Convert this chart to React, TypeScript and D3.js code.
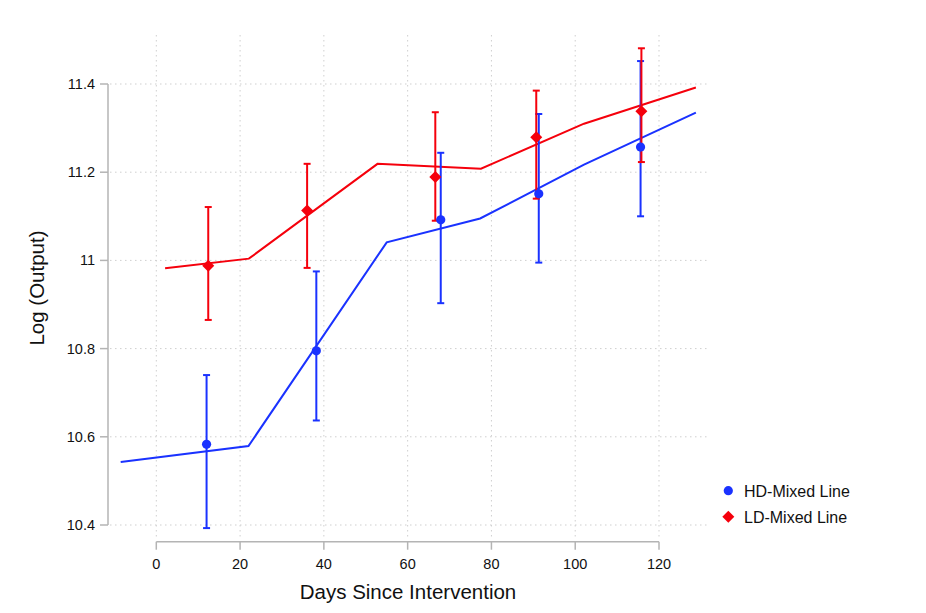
import React from "react";
import * as d3 from "d3";

const xTicks = [0, 20, 40, 60, 80, 100, 120];
const yTicks = [10.4, 10.6, 10.8, 11.0, 11.2, 11.4];
const yTickLabels = ["10.4", "10.6", "10.8", "11", "11.2", "11.4"];

const hdDays = [12.0, 38.2, 67.9, 91.3, 115.6];
const hdMean = [10.583, 10.795, 11.092, 11.151, 11.257];
const hdLow = [10.393, 10.637, 10.903, 10.995, 11.1];
const hdHigh = [10.74, 10.975, 11.244, 11.332, 11.452];

const ldDays = [12.4, 36.0, 66.6, 90.7, 115.8];
const ldMean = [10.988, 11.113, 11.189, 11.279, 11.338];
const ldLow = [10.865, 10.983, 11.09, 11.14, 11.223];
const ldHigh = [11.121, 11.219, 11.336, 11.385, 11.481];

const hdFitDays = [-8.5, 22.0, 55.0, 77.3, 102.1, 128.8];
const hdFitVals = [10.543, 10.579, 11.041, 11.095, 11.217, 11.335];
const ldFitDays = [2.1, 22.1, 52.8, 77.5, 102.1, 128.8];
const ldFitVals = [10.982, 11.004, 11.219, 11.208, 11.31, 11.392];

const seriesNames = ["HD-Mixed Line", "LD-Mixed Line"];
const BLUE = "#1a32ff";
const RED = "#f5000c";

export default function App() {
  const W = 926;
  const H = 613;
  const x = d3.scaleLinear().domain([0, 120]).range([156.3, 659]);
  const y = d3.scaleLinear().domain([10.4, 11.4]).range([525, 84]);
  const font = "'Liberation Sans', Arial, Helvetica, sans-serif";
  const gridLeft = 110;
  const gridRight = 707;
  const gridTop = 35;
  const gridBottom = 537;
  const axisY = 541.7;
  const axisX = 108;

  const line = d3
    .line<[number, number]>()
    .x((d) => x(d[0]))
    .y((d) => y(d[1]));

  const hdFit = hdFitDays.map((d, i) => [d, hdFitVals[i]] as [number, number]);
  const ldFit = ldFitDays.map((d, i) => [d, ldFitVals[i]] as [number, number]);

  const errBars = (days: number[], lo: number[], hi: number[], color: string) =>
    days.map((d, i) => (
      <g key={i} stroke={color} strokeWidth={2}>
        <line x1={x(d)} x2={x(d)} y1={y(lo[i])} y2={y(hi[i])} />
        <line x1={x(d) - 3.5} x2={x(d) + 3.5} y1={y(lo[i])} y2={y(lo[i])} />
        <line x1={x(d) - 3.5} x2={x(d) + 3.5} y1={y(hi[i])} y2={y(hi[i])} />
      </g>
    ));

  const diamond = (cx: number, cy: number, r: number) =>
    `M${cx},${cy - r}L${cx + r},${cy}L${cx},${cy + r}L${cx - r},${cy}Z`;

  return (
    <svg width={W} height={H} style={{ position: "absolute", left: 0, top: 0, background: "#fff" }}>
      <rect width={W} height={H} fill="#fff" />
      {/* grid */}
      <g stroke="#cfcfcf" strokeWidth={1} strokeDasharray="1.5,3.5">
        {xTicks.map((t) => (
          <line key={"gx" + t} x1={x(t)} x2={x(t)} y1={gridTop} y2={gridBottom} />
        ))}
        {yTicks.map((t) => (
          <line key={"gy" + t} x1={gridLeft} x2={gridRight} y1={y(t)} y2={y(t)} />
        ))}
      </g>
      {/* axes */}
      <g stroke="#b4b4b4" strokeWidth={1.5}>
        <line x1={axisX} x2={axisX} y1={y(11.4)} y2={y(10.4)} />
        {yTicks.map((t) => (
          <line key={"yt" + t} x1={axisX - 8} x2={axisX} y1={y(t)} y2={y(t)} />
        ))}
        <line x1={x(0)} x2={x(120)} y1={axisY} y2={axisY} />
        {xTicks.map((t) => (
          <line key={"xt" + t} x1={x(t)} x2={x(t)} y1={axisY} y2={axisY + 8} />
        ))}
      </g>
      <g fontFamily={font} fontSize={14.5} fill="#111">
        {yTicks.map((t, i) => (
          <text key={"yl" + t} x={95} y={y(t)} textAnchor="end" dominantBaseline="central">
            {yTickLabels[i]}
          </text>
        ))}
        {xTicks.map((t) => (
          <text key={"xl" + t} x={x(t)} y={563.5} textAnchor="middle" dominantBaseline="central">
            {t}
          </text>
        ))}
      </g>
      <text x={408} y={599} textAnchor="middle" fontFamily={font} fontSize={20.5} fill="#111">
        Days Since Intervention
      </text>
      <text
        transform={`translate(43.5,288) rotate(-90)`}
        textAnchor="middle"
        fontFamily={font}
        fontSize={20.5}
        fill="#111"
      >
        Log (Output)
      </text>
      {/* fitted lines */}
      <path d={line(hdFit) || ""} fill="none" stroke={BLUE} strokeWidth={2} />
      <path d={line(ldFit) || ""} fill="none" stroke={RED} strokeWidth={2} />
      {/* error bars */}
      {errBars(hdDays, hdLow, hdHigh, BLUE)}
      {errBars(ldDays, ldLow, ldHigh, RED)}
      {/* markers */}
      {hdDays.map((d, i) => (
        <circle key={"hc" + i} cx={x(d)} cy={y(hdMean[i])} r={4.6} fill={BLUE} />
      ))}
      {ldDays.map((d, i) => (
        <path key={"ld" + i} d={diamond(x(d), y(ldMean[i]), 6)} fill={RED} />
      ))}
      {/* legend */}
      <circle cx={728.3} cy={490.7} r={4.6} fill={BLUE} />
      <path d={diamond(728.3, 516.7, 6)} fill={RED} />
      <g fontFamily={font} fontSize={16} fill="#111">
        <text x={744} y={491} dominantBaseline="central">
          {seriesNames[0]}
        </text>
        <text x={744} y={517} dominantBaseline="central">
          {seriesNames[1]}
        </text>
      </g>
    </svg>
  );
}
